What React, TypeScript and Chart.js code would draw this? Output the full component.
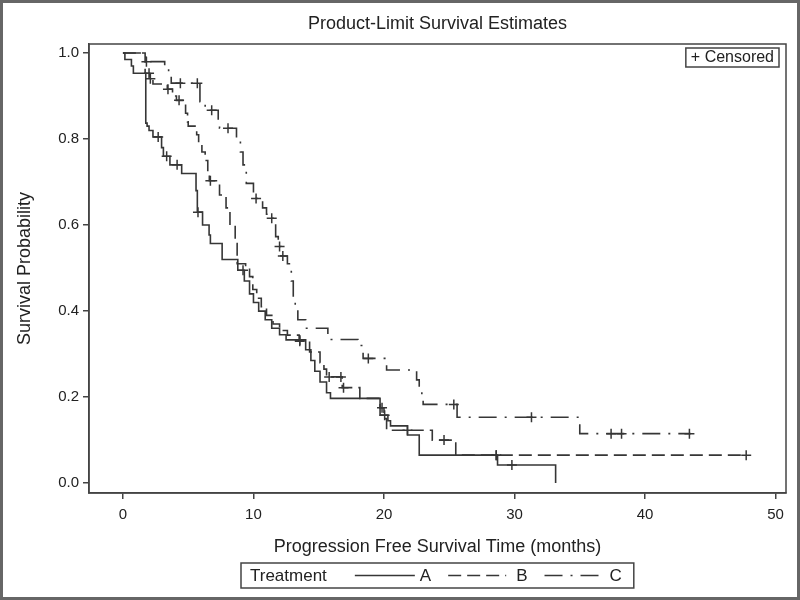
import React, { useEffect, useRef } from "react";
import { Chart, registerables } from "chart.js";

Chart.register(...registerables);

// ---- data ----
const xTickValues = [0, 10, 20, 30, 40, 50];
const yTickValues = [0, 0.2, 0.4, 0.6, 0.8, 1.0];

// Treatment A: event times and survival after each step (last entry = end of follow-up)
const aTimes = [0, 0.15, 0.65, 0.8, 1.75, 1.85, 2.0, 2.3, 2.96, 3.1, 3.6, 4.5, 5.6, 5.7, 6.1, 6.6, 6.7, 7.6, 8.8, 9.3, 9.7, 10.0, 10.4, 10.9, 11.4, 12.0, 12.5, 14.0, 14.4, 14.7, 15.1, 15.6, 15.9, 19.7, 20.3, 20.5, 21.8, 22.7, 28.7, 33.15];
const aSurv = [1, 0.985, 0.97, 0.953, 0.837, 0.83, 0.82, 0.805, 0.78, 0.76, 0.74, 0.72, 0.68, 0.63, 0.6, 0.577, 0.557, 0.52, 0.495, 0.47, 0.44, 0.42, 0.4, 0.38, 0.36, 0.345, 0.333, 0.31, 0.285, 0.26, 0.235, 0.21, 0.197, 0.158, 0.145, 0.133, 0.112, 0.065, 0.042, 0];
const aCensored = [2.7, 3.35, 4.15, 5.75, 9.2, 13.55, 20.05, 28.6, 29.8];

// Treatment B
const bTimes = [0, 1.7, 2.05, 2.3, 3.4, 3.8, 4.1, 4.8, 4.95, 5.0, 5.65, 5.8, 6.05, 6.3, 6.5, 6.62, 7.4, 7.9, 8.2, 8.6, 8.75, 9.4, 9.7, 9.95, 10.25, 10.6, 11.0, 11.5, 12.0, 12.6, 13.5, 14.3, 15.1, 15.4, 15.6, 16.8, 18.15, 19.7, 20.0, 20.2, 23.7, 25.5, 47.75];
const bSurv = [1, 0.953, 0.94, 0.928, 0.916, 0.9, 0.89, 0.86, 0.84, 0.83, 0.81, 0.79, 0.77, 0.75, 0.72, 0.703, 0.67, 0.64, 0.6, 0.557, 0.51, 0.5, 0.48, 0.45, 0.43, 0.41, 0.39, 0.37, 0.355, 0.344, 0.33, 0.305, 0.28, 0.265, 0.247, 0.222, 0.197, 0.175, 0.15, 0.123, 0.1, 0.065, 0.065];
const bCensored = [2.0, 2.1, 3.45, 4.3, 6.7, 13.55, 15.8, 16.7, 16.9, 19.85, 21.8, 24.6, 28.6, 47.75];

// Treatment C
const cTimes = [0, 1.75, 3.2, 3.5, 3.7, 5.9, 6.3, 7.3, 7.4, 8.7, 9.0, 9.2, 9.45, 10.0, 10.7, 11.0, 11.2, 11.7, 11.9, 12.1, 12.6, 12.9, 13.05, 13.2, 13.4, 14.0, 15.7, 18.0, 18.4, 20.2, 22.5, 22.7, 22.9, 23.0, 25.6, 35.0, 43.5];
const cSurv = [1, 0.98, 0.965, 0.953, 0.93, 0.887, 0.867, 0.84, 0.825, 0.8, 0.77, 0.74, 0.697, 0.662, 0.64, 0.625, 0.616, 0.573, 0.55, 0.528, 0.51, 0.47, 0.433, 0.41, 0.38, 0.36, 0.334, 0.32, 0.29, 0.263, 0.24, 0.216, 0.198, 0.183, 0.153, 0.115, 0.115];
const cCensored = [1.8, 4.4, 5.7, 6.8, 8.05, 10.2, 11.4, 12.0, 12.25, 18.8, 25.35, 31.3, 37.4, 38.2, 43.4];

const groupNames = ["A", "B", "C"];

// ---- styles ----
const FONT = '"Liberation Sans", Arial, Helvetica, sans-serif';
const LINE = "#363636";
const TEXT = "#222";
const FRAME = "#444";
const DASH_B = [13, 6];
const DASH_C = [18, 8, 2, 8];
const DASHES = [[], DASH_B, DASH_C];

function survAt(times: number[], surv: number[], t: number) {
  let s = surv[0];
  for (let i = 0; i < times.length; i++) {
    if (times[i] <= t) s = surv[i];
  }
  return s;
}

function curve(times: number[], surv: number[]) {
  return times.map((t, i) => ({ x: t, y: surv[i] }));
}

function censorPts(times: number[], surv: number[], cens: number[]) {
  return cens.map((t) => ({ x: t, y: survAt(times, surv, t) }));
}

const decorPlugin = {
  id: "decor",
  afterDraw(chart: any) {
    const { ctx, chartArea: ca } = chart;
    ctx.save();
    // plot frame
    ctx.strokeStyle = FRAME;
    ctx.lineWidth = 1.5;
    ctx.setLineDash([]);
    ctx.strokeRect(ca.left, ca.top, ca.right - ca.left, ca.bottom - ca.top);

    // outer border of the image
    ctx.strokeStyle = "#666";
    ctx.lineWidth = 3;
    ctx.strokeRect(1.5, 1.5, chart.width - 3, chart.height - 3);

    // "+ Censored" inset legend
    ctx.font = `16px ${FONT}`;
    ctx.fillStyle = TEXT;
    ctx.textBaseline = "middle";
    ctx.textAlign = "left";
    const cl = "+ Censored";
    const cw = ctx.measureText(cl).width + 10;
    const cx = ca.right - 7 - cw;
    const cy = ca.top + 4;
    ctx.lineWidth = 1.5;
    ctx.strokeStyle = FRAME;
    ctx.strokeRect(cx, cy, cw, 19);
    ctx.fillText(cl, cx + 5, cy + 10);

    // bottom legend
    ctx.font = `17px ${FONT}`;
    const title = "Treatment";
    const tw = ctx.measureText(title).width;
    const items = groupNames.map((n, i) => ({
      n,
      dash: DASHES[i],
      len: [60, 58, 55][i],
      gap: [5, 10, 10][i],
      w: ctx.measureText(n).width,
    }));
    let total = 9 + tw + 28;
    items.forEach((it, i) => {
      total += it.len + it.gap + it.w + (i < items.length - 1 ? 17 : 12);
    });
    const bx = Math.round((ca.left + ca.right) / 2 - total / 2);
    const by = chart.height - 37;
    const bh = 25;
    ctx.strokeStyle = FRAME;
    ctx.lineWidth = 1.5;
    ctx.strokeRect(bx, by, total, bh);
    const my = by + bh / 2;
    let x = bx + 9;
    ctx.fillStyle = TEXT;
    ctx.fillText(title, x, my + 1);
    x += tw + 28;
    items.forEach((it, i) => {
      ctx.strokeStyle = LINE;
      ctx.lineWidth = 1.5;
      ctx.setLineDash(it.dash);
      ctx.beginPath();
      ctx.moveTo(x, my);
      ctx.lineTo(x + it.len, my);
      ctx.stroke();
      ctx.setLineDash([]);
      x += it.len + it.gap;
      ctx.fillText(it.n, x, my + 1);
      x += it.w + (i < items.length - 1 ? 17 : 12);
    });
    ctx.restore();
  },
};

export default function App() {
  const ref = useRef<HTMLCanvasElement | null>(null);

  useEffect(() => {
    if (!ref.current) return;
    Chart.defaults.font.family = FONT;
    const lineDs = (label: string, times: number[], surv: number[], dash: number[]) => ({
      label,
      data: curve(times, surv),
      showLine: true,
      stepped: "before" as const,
      borderColor: LINE,
      borderWidth: 1.6,
      borderDash: dash,
      pointRadius: 0,
      fill: false,
    });
    const censDs = (label: string, times: number[], surv: number[], cens: number[]) => ({
      label,
      data: censorPts(times, surv, cens),
      showLine: false,
      pointStyle: "cross" as const,
      pointRadius: 5,
      pointBorderWidth: 1.5,
      borderColor: LINE,
      backgroundColor: LINE,
    });

    const chart = new Chart(ref.current, {
      type: "scatter",
      data: {
        datasets: [
          lineDs("A", aTimes, aSurv, []),
          lineDs("B", bTimes, bSurv, DASH_B),
          lineDs("C", cTimes, cSurv, DASH_C),
          censDs("A censored", aTimes, aSurv, aCensored),
          censDs("B censored", bTimes, bSurv, bCensored),
          censDs("C censored", cTimes, cSurv, cCensored),
        ],
      },
      options: {
        responsive: false,
        animation: false,
        events: [],
        layout: { padding: { top: 0, right: 14, bottom: 0, left: 0 } },
        plugins: {
          legend: { display: false },
          tooltip: { enabled: false },
          title: {
            display: true,
            fullSize: false,
            text: "Product-Limit Survival Estimates",
            color: TEXT,
            font: { size: 18, weight: "normal", family: FONT },
            padding: { top: 13, bottom: 9.4 },
          },
        },
        scales: {
          x: {
            type: "linear",
            min: -2.6,
            max: 50.8,
            afterBuildTicks: (s: any) => {
              s.ticks = xTickValues.map((v) => ({ value: v }));
            },
            afterFit: (s: any) => {
              s.height = 107;
            },
            ticks: {
              color: TEXT,
              font: { size: 15, family: FONT },
              padding: 7,
              maxRotation: 0,
              autoSkip: false,
              callback: (v: any) => String(v),
            },
            grid: { drawOnChartArea: false, drawTicks: true, tickLength: 6, color: FRAME, lineWidth: 1.5 },
            border: { display: true, color: FRAME, width: 1.5 },
            title: {
              display: true,
              text: "Progression Free Survival Time (months)",
              color: TEXT,
              font: { size: 18, family: FONT },
              padding: { top: 0, bottom: 42 },
            },
          },
          y: {
            type: "linear",
            min: -0.023,
            max: 1.021,
            afterBuildTicks: (s: any) => {
              s.ticks = yTickValues.map((v) => ({ value: v }));
            },
            afterFit: (s: any) => {
              s.width = 89;
            },
            ticks: {
              color: TEXT,
              font: { size: 15, family: FONT },
              padding: 4,
              autoSkip: false,
              callback: (v: any) => Number(v).toFixed(1),
            },
            grid: { drawOnChartArea: false, drawTicks: true, tickLength: 6, color: FRAME, lineWidth: 1.5 },
            border: { display: true, color: FRAME, width: 1.5 },
            title: {
              display: true,
              text: "Survival Probability",
              color: TEXT,
              font: { size: 18, family: FONT },
              padding: { top: 14, bottom: 0 },
            },
          },
        },
      } as any,
      plugins: [decorPlugin],
    });
    return () => chart.destroy();
  }, []);

  return (
    <div style={{ position: "fixed", left: 0, top: 0, width: 800, height: 600, background: "#fff" }}>
      <canvas ref={ref} width={800} height={600} style={{ width: 800, height: 600, display: "block" }} />
    </div>
  );
}
